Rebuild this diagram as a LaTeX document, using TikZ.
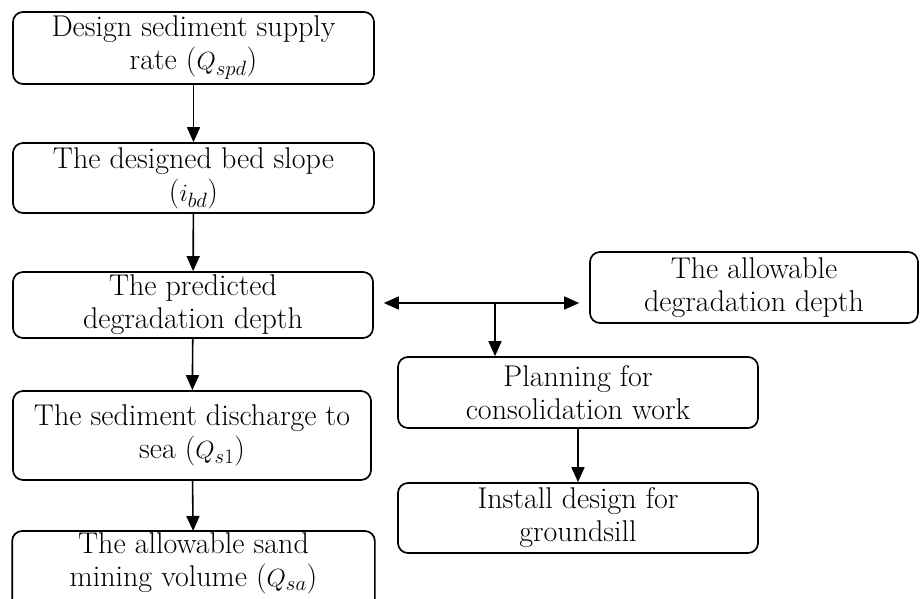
\documentclass[tikz,border=0pt]{standalone}
\usetikzlibrary{arrows.meta}
\begin{document}
\begin{tikzpicture}[x=1pt,y=-1pt,
  boxline/.style={draw,line width=1.7pt,rounded corners=10pt},
  box/.style={boxline,align=center,inner sep=0pt,
    font=\fontsize{30}{33}\selectfont},
  arr/.style={line width=1.6pt,-{Triangle[length=15pt,width=13pt]}}]
\useasboundingbox (0,0) rectangle (920,598);
\node[box,minimum width=361pt,minimum height=72pt] (b1) at (193.5,48) {Design sediment supply\\rate ($Q_{spd}$)};
\node[box,minimum width=361pt,minimum height=70pt] (b2) at (193.5,178) {The designed bed slope\\($i_{bd}$)};
\node[box,minimum width=360pt,minimum height=66pt] (b3) at (193,305) {The predicted\\degradation depth};
\node[box,minimum width=358pt,minimum height=89pt] (b4) at (192,435.5) {The sediment discharge to\\sea ($Q_{s1}$)};
\node[box,draw=none,minimum width=361pt,minimum height=63pt,anchor=north] (b5) at (193.5,531) {The allowable sand\\mining volume ($Q_{sa}$)};
\draw[boxline] (b5.north west) rectangle ([yshift=-80pt]b5.north east);
\node[box,minimum width=328pt,minimum height=71pt] (b6) at (754,287.5) {The allowable\\degradation depth};
\node[box,minimum width=360pt,minimum height=71pt] (b7) at (578,392.5) {Planning for\\consolidation work};
\node[box,minimum width=360pt,minimum height=70pt] (b8) at (578,518) {Install design for\\groundsill};
\draw[arr] (b1) -- (b2);
\draw[arr] (b2) -- (b3);
\draw[arr] (b3) -- (b4);
\draw[arr] (b4) -- (b5);
\draw[arr] (b7) -- (b8);
\coordinate (j) at (495,303);
\draw[arr] (j) -- ([xshift=10pt]b3.east |- j);
\draw[arr] (j) -- ([xshift=-10pt]b6.west |- j);
\draw[arr] (j) -- (j |- b7.north);
\end{tikzpicture}
\end{document}
